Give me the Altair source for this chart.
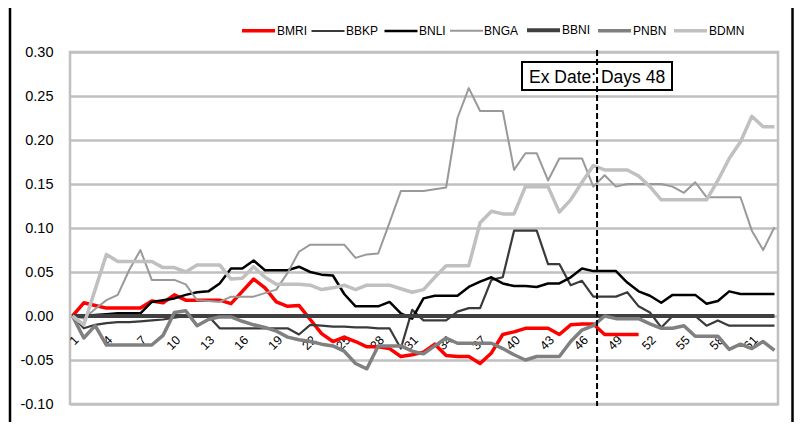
import altair as alt
import pandas as pd

# ---------------- data ----------------
DAYS = list(range(1, 64))
SERIES = ["BMRI", "BBKP", "BNLI", "BNGA", "BBNI", "PNBN", "BDMN"]
COLORS = ["#ff0000", "#3a3a3a", "#000000", "#999999", "#404040", "#808080", "#c0c0c0"]
WIDTHS = [3.5, 2.2, 2.5, 2.0, 4.0, 3.5, 3.5]

BMRI = [0.0, 0.015, 0.012, 0.009, 0.009, 0.009, 0.009, 0.017, 0.015, 0.024,
        0.018, 0.018, 0.018, 0.018, 0.014, 0.028, 0.042, 0.032, 0.016, 0.011,
        0.012, -0.004, -0.020, -0.029, -0.024, -0.029, -0.035, -0.035, -0.037, -0.046,
        -0.044, -0.041, -0.032, -0.045, -0.046, -0.046, -0.054, -0.042, -0.021, -0.018,
        -0.014, -0.014, -0.014, -0.021, -0.010, -0.009, -0.009, -0.021, -0.021, -0.021,
        -0.021]

BBKP = [0.0, -0.014, -0.010, -0.008, -0.007, -0.007, -0.006, -0.005, -0.004, -0.002,
        0.0, 0.0, 0.0, -0.014, -0.014, -0.014, -0.014, -0.014, -0.014, -0.014,
        -0.021, -0.010, -0.011, -0.012, -0.012, -0.013, -0.013, -0.014, -0.014, -0.037,
        0.007, -0.005, -0.005, -0.005, 0.005, 0.009, 0.009, 0.041, 0.044, 0.097,
        0.097, 0.097, 0.059, 0.059, 0.035, 0.040, 0.022, 0.022, 0.022, 0.027,
        0.011, 0.004, -0.013, 0.0, 0.0, 0.0, -0.011, -0.005, -0.011, -0.011,
        -0.011, -0.011, -0.011]

BNLI = [0.0, 0.0, 0.001, 0.002, 0.003, 0.003, 0.003, 0.016, 0.018, 0.020,
        0.024, 0.027, 0.028, 0.037, 0.054, 0.054, 0.063, 0.052, 0.052, 0.052,
        0.056, 0.050, 0.047, 0.046, 0.025, 0.011, 0.011, 0.011, 0.016, 0.003,
        -0.003, 0.020, 0.023, 0.023, 0.023, 0.033, 0.039, 0.044, 0.037, 0.034,
        0.034, 0.033, 0.037, 0.037, 0.044, 0.054, 0.051, 0.051, 0.051, 0.038,
        0.028, 0.023, 0.015, 0.024, 0.024, 0.024, 0.014, 0.017, 0.028, 0.025,
        0.025, 0.025, 0.025]

BNGA = [0.0, -0.003, 0.008, 0.018, 0.024, 0.052, 0.075, 0.041, 0.041, 0.041,
        0.036, 0.018, 0.017, 0.016, 0.022, 0.022, 0.022, 0.026, 0.030, 0.049,
        0.073, 0.081, 0.081, 0.081, 0.081, 0.066, 0.070, 0.071, 0.106, 0.142,
        0.142, 0.142, 0.144, 0.146, 0.225, 0.259, 0.233, 0.233, 0.233, 0.166,
        0.185, 0.185, 0.154, 0.179, 0.179, 0.179, 0.147, 0.160, 0.147, 0.150,
        0.150, 0.150, 0.150, 0.147, 0.140, 0.152, 0.135, 0.135, 0.135, 0.135,
        0.097, 0.075, 0.101]

BBNI = [0.0, 0.0, 0.0, 0.0, 0.0, 0.0, 0.0, 0.0, 0.0, 0.0,
        0.0, 0.0, 0.0, 0.0, 0.0, 0.0, 0.0, 0.0, 0.0, 0.0,
        0.0, 0.0, 0.0, 0.0, 0.0, 0.0, 0.0, 0.0, 0.0, 0.0,
        0.0, 0.0, 0.0, 0.0, 0.0, 0.0, 0.0, 0.0, 0.0, 0.0,
        0.0, 0.0, 0.0, 0.0, 0.0, 0.0, 0.0, 0.0, 0.0, 0.0,
        0.0, 0.0, 0.0, 0.0, 0.0, 0.0, 0.0, 0.0, 0.0, 0.0,
        0.0, 0.0, 0.0]

PNBN = [0.0, -0.025, -0.011, -0.033, -0.033, -0.033, -0.033, -0.033, -0.022, 0.004,
        0.006, -0.011, -0.004, -0.001, -0.001, -0.006, -0.010, -0.013, -0.017, -0.024,
        -0.027, -0.029, -0.032, -0.034, -0.040, -0.054, -0.060, -0.034, -0.034, -0.034,
        -0.040, -0.043, -0.034, -0.025, -0.031, -0.031, -0.031, -0.031, -0.037, -0.044,
        -0.050, -0.046, -0.046, -0.046, -0.029, -0.016, -0.011, 0.0, -0.003, -0.003,
        -0.003, -0.009, -0.014, -0.014, -0.011, -0.023, -0.023, -0.023, -0.038, -0.032,
        -0.037, -0.029, -0.039]

BDMN = [0.0, -0.010, 0.030, 0.070, 0.062, 0.062, 0.062, 0.062, 0.055, 0.055,
        0.050, 0.058, 0.058, 0.058, 0.042, 0.043, 0.056, 0.044, 0.036, 0.036,
        0.036, 0.035, 0.030, 0.032, 0.035, 0.030, 0.035, 0.035, 0.035, 0.031,
        0.027, 0.030, 0.044, 0.057, 0.057, 0.057, 0.106, 0.119, 0.116, 0.116,
        0.147, 0.147, 0.147, 0.118, 0.132, 0.152, 0.171, 0.166, 0.166, 0.166,
        0.159, 0.147, 0.132, 0.132, 0.132, 0.132, 0.132, 0.154, 0.179, 0.198,
        0.227, 0.215, 0.215]

TICK_DAYS = [1, 4, 7, 10, 13, 16, 19, 22, 25, 28, 31, 34, 37, 40, 43, 46, 49, 52, 55, 58, 61]
Y_TICKS = [-0.10, -0.05, 0.0, 0.05, 0.10, 0.15, 0.20, 0.25, 0.30]
EX_DATE_POS = 47.33
EX_LABEL = "Ex Date: Days 48"

# ---------------- tables ----------------
VALUES = [BMRI, BBKP, BNLI, BNGA, BBNI, PNBN, BDMN]
rows = []
for name, vals in zip(SERIES, VALUES):
    for d, v in zip(DAYS, vals):
        rows.append({"day": d, "value": v, "series": name})
df = pd.DataFrame(rows)

labels_df = pd.DataFrame({"day": TICK_DAYS, "value": [0.0] * len(TICK_DAYS),
                          "label": [str(d) for d in TICK_DAYS]})
ex_df = pd.DataFrame({"day": [EX_DATE_POS], "label": [EX_LABEL]})

FONT = "Liberation Sans, Arial, sans-serif"
W, H = 708, 352
PAD = {"left": 62, "top": 44, "right": 16, "bottom": 18}

x_enc = alt.X("day:Q", scale=alt.Scale(domain=[0.78, 63.31], nice=False, zero=False), axis=None)
y_enc = alt.Y(
    "value:Q",
    scale=alt.Scale(domain=[-0.10, 0.30], nice=False, zero=False),
    axis=alt.Axis(
        values=Y_TICKS, title=None, grid=True, gridColor="#c0c0c0", gridWidth=2.5,
        domain=False, ticks=False, labelFont=FONT, labelFontSize=14.5, labelColor="#000000",
        labelPadding=17,
        labelExpr="replace(format(datum.value, '.2f'), '\u2212', '-')",
    ),
)

legend = alt.Legend(
    title=None, orient="none", legendX=170, legendY=-40.5, direction="horizontal",
    symbolType="stroke", symbolSize=1089, labelFont=FONT, labelFontSize=12,
    labelColor="#000000", labelOffset=0, columnPadding=0, padding=0,
)
color_enc = alt.Color("series:N", scale=alt.Scale(domain=SERIES, range=COLORS), legend=legend)
width_enc = alt.StrokeWidth(
    "series:N", scale=alt.Scale(type="ordinal", domain=SERIES, range=WIDTHS), legend=legend
)

# x tick labels sit on the zero line (category axis crosses at 0)
xlabels = alt.Chart(labels_df).mark_text(
    angle=315, align="right", baseline="middle", xOffset=4, yOffset=22,
    font=FONT, fontSize=12.5, color="#000000",
).encode(x=x_enc, y=y_enc, text="label:N")

line_layers = []
for name in SERIES:
    line_layers.append(
        alt.Chart(df).transform_filter(alt.datum.series == name)
        .mark_line(strokeJoin="round", strokeCap="butt")
        .encode(x=x_enc, y=y_enc, color=color_enc, strokeWidth=width_enc)
    )

box = alt.Chart(ex_df).mark_rect(fill="white", stroke="#000000", strokeWidth=2).encode(
    x=alt.value(452), x2=alt.value(602), y=alt.value(10), y2=alt.value(38)
)
ex_rule = alt.Chart(ex_df).mark_rule(color="#000000", strokeWidth=2, strokeDash=[6, 3]).encode(
    x=x_enc, y=alt.value(-2), y2=alt.value(H + 2)
)
ex_text = alt.Chart(ex_df).mark_text(
    font=FONT, fontSize=17.5, color="#000000", align="center", baseline="alphabetic"
).encode(x=x_enc, y=alt.value(30.5), text="label:N")

frame_left = alt.Chart(ex_df).mark_rule(color="#000000", strokeWidth=2.5).encode(
    x=alt.value(-60), y=alt.value(-44), y2=alt.value(H + PAD["bottom"])
)
frame_right = alt.Chart(ex_df).mark_rule(color="#000000", strokeWidth=2.5).encode(
    x=alt.value(W + PAD["right"] - 1.5), y=alt.value(-44), y2=alt.value(H + PAD["bottom"])
)

chart = alt.layer(
    xlabels, *line_layers, box, ex_rule, ex_text, frame_left, frame_right
).properties(
    width=W, height=H,
    autosize=alt.AutoSizeParams(type="none"),
    padding=PAD,
    background="white",
).configure_view(
    stroke="#c0c0c0", strokeWidth=2.5
)

chart.save("out.html", embed_options={"renderer": "svg", "actions": False})
